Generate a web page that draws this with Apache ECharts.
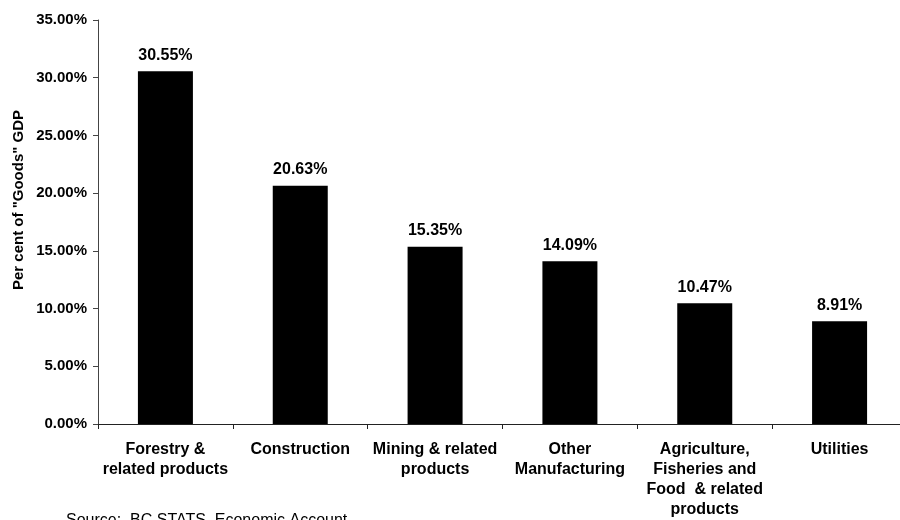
<!DOCTYPE html>
<html><head><meta charset="utf-8">
<script src="https://cdn.jsdelivr.net/npm/echarts@6/dist/echarts.min.js"></script>
<style>html,body{margin:0;padding:0;background:#fff;overflow:hidden}#c{width:912px;height:520px}</style>
</head><body><div id="c"></div>
<script>
const categories = ["Forestry &\nrelated products", "Construction", "Mining & related\nproducts", "Other\nManufacturing", "Agriculture,\nFisheries and\nFood  & related\nproducts", "Utilities"];
const values = [30.55, 20.63, 15.35, 14.09, 10.47, 8.91];
const yTicks = [0, 5, 10, 15, 20, 25, 30, 35];
const yTitle = 'Per cent of "Goods" GDP';
const source = "Source:  BC STATS, Economic Account";

const chart = echarts.init(document.getElementById('c'), null, {renderer: 'canvas'});
const font = '"Liberation Sans", Arial, sans-serif';
chart.setOption({
  animation: false,
  backgroundColor: '#fff',
  grid: {left: 98, top: 20, width: 809, height: 406, containLabel: false},
  xAxis: {
    type: 'category', data: categories,
    axisLine: {lineStyle: {color: '#222', width: 1}},
    axisTick: {show: true, alignWithLabel: false, length: 5, lineStyle: {color: '#222'}},
    axisLabel: {color: '#000', fontFamily: font, fontWeight: 'bold', fontSize: 16, lineHeight: 20, margin: 16, interval: 0}
  },
  yAxis: {
    type: 'value', min: yTicks[0], max: yTicks[yTicks.length-1], interval: 5,
    axisLine: {show: true, lineStyle: {color: '#444', width: 1}},
    axisTick: {show: true, length: 5, inside: false, lineStyle: {color: '#444'}},
    splitLine: {show: false},
    axisLabel: {color: '#000', fontFamily: font, fontWeight: 'bold', fontSize: 15, margin: 11,
      formatter: v => v.toFixed(2) + '%'}
  },
  series: [{
    type: 'bar', data: values, barWidth: 55,
    itemStyle: {color: '#000'},
    label: {show: true, position: 'top', distance: 8, color: '#000', fontFamily: font, fontWeight: 'bold', fontSize: 16,
      formatter: p => p.value.toFixed(2) + '%'}
  }],
  graphic: [{
    type: 'text', x: 19, y: 200, rotation: Math.PI / 2,
    style: {text: yTitle, fill: '#000', font: 'bold 15px "Liberation Sans", Arial, sans-serif', align: 'center', verticalAlign: 'middle'}
  }, {
    type: 'text', left: 66, top: 513,
    style: {text: source, fill: '#000', font: '16px "Liberation Sans", Arial, sans-serif'}
  }]
});
</script></body></html>
